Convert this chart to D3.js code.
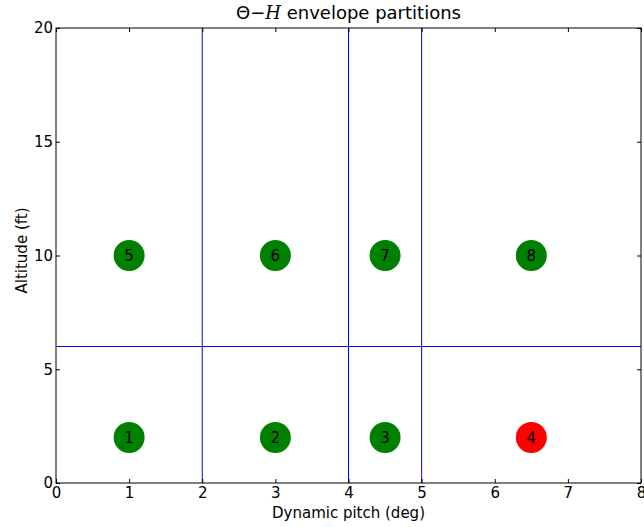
<!DOCTYPE html>
<html>
<head>
<meta charset="utf-8">
<script src="https://cdn.jsdelivr.net/npm/d3@7"></script>
<style>
  body { margin: 0; background: #fff; }
  text { font-family: "DejaVu Sans", sans-serif; }
</style>
</head>
<body>
<div id="container"></div>
<script>
/* DATA */
const xTicks = [0, 1, 2, 3, 4, 5, 6, 7, 8];
const yTicks = [0, 5, 10, 15, 20];
const pitchBounds = [2, 4, 5];
const altBounds = [6];
const pointX = [1, 3, 4.5, 6.5, 1, 3, 4.5, 6.5];
const pointY = [2, 2, 2, 2, 10, 10, 10, 10];
const pointLabel = ["1", "2", "3", "4", "5", "6", "7", "8"];
const pointState = ["ok", "ok", "ok", "bad", "ok", "ok", "ok", "ok"];

/* CONSTANTS */
const width = 644, height = 527;
const margin = {left: 56, right: 3, top: 28, bottom: 44};
const fs = 15;

const svg = d3.select("#container").append("svg")
  .attr("width", width)
  .attr("height", height);

/* SCALES */
const xScale = d3.scaleLinear().domain([0, 8]).range([margin.left, width - margin.right]);
const yScale = d3.scaleLinear().domain([0, 20]).range([height - margin.bottom, margin.top]);
const colorScale = d3.scaleOrdinal().domain(["ok", "bad"]).range(["green", "red"]);

const plot = svg.append("g");

// partition lines
plot.selectAll("line.v")
  .data(pitchBounds)
  .join("line")
  .attr("x1", d => xScale(d)).attr("x2", d => xScale(d))
  .attr("y1", yScale(0)).attr("y2", yScale(20))
  .attr("stroke", "blue").attr("stroke-width", 1);

plot.selectAll("line.h")
  .data(altBounds)
  .join("line")
  .attr("x1", xScale(0)).attr("x2", xScale(8))
  .attr("y1", d => yScale(d)).attr("y2", d => yScale(d))
  .attr("stroke", "blue").attr("stroke-width", 1);

// points
const pts = pointX.map((x, i) => ({x, y: pointY[i], label: pointLabel[i], state: pointState[i]}));

plot.selectAll("circle")
  .data(pts)
  .join("circle")
  .attr("cx", d => xScale(d.x))
  .attr("cy", d => yScale(d.y))
  .attr("r", 15.5)
  .attr("fill", d => colorScale(d.state));

plot.selectAll("text.lbl")
  .data(pts)
  .join("text")
  .attr("x", d => xScale(d.x))
  .attr("y", d => yScale(d.y))
  .attr("dy", "0.36em")
  .attr("text-anchor", "middle")
  .attr("font-size", fs)
  .text(d => d.label);

/* AXES (ticks inward on all sides) */
const tickStyle = g => {
  g.select(".domain").remove();
  g.selectAll("text").attr("font-size", fs).attr("fill", "#000")
    .style("font-family", "DejaVu Sans, sans-serif");
  g.selectAll("line").attr("stroke", "#000");
};

svg.append("g")
  .attr("transform", `translate(0,${yScale(0)})`)
  .call(d3.axisBottom(xScale).tickValues(xTicks).tickSizeInner(-4).tickSizeOuter(0).tickPadding(4).tickFormat(d3.format("d")))
  .call(tickStyle);

svg.append("g")
  .attr("transform", `translate(0,${yScale(20)})`)
  .call(d3.axisTop(xScale).tickValues(xTicks).tickSizeInner(-4).tickSizeOuter(0).tickFormat(""))
  .call(tickStyle);

svg.append("g")
  .attr("transform", `translate(${xScale(0)},0)`)
  .call(d3.axisLeft(yScale).tickValues(yTicks).tickSizeInner(-4).tickSizeOuter(0).tickPadding(3).tickFormat(d3.format("d")))
  .call(tickStyle);

svg.append("g")
  .attr("transform", `translate(${xScale(8)},0)`)
  .call(d3.axisRight(yScale).tickValues(yTicks).tickSizeInner(-4).tickSizeOuter(0).tickFormat(""))
  .call(tickStyle);

// frame
svg.append("rect")
  .attr("x", xScale(0)).attr("y", yScale(20))
  .attr("width", xScale(8) - xScale(0))
  .attr("height", yScale(0) - yScale(20))
  .attr("fill", "none").attr("stroke", "#000").attr("stroke-width", 1);

/* LABELS */
const title = svg.append("text")
  .attr("x", (xScale(0) + xScale(8)) / 2)
  .attr("y", 19)
  .attr("text-anchor", "middle")
  .attr("font-size", 18);
title.append("tspan").text("\u0398\u2212");
title.append("tspan").attr("font-family", "DejaVu Serif").attr("font-style", "italic").text("H");
title.append("tspan").text(" envelope partitions");

svg.append("text")
  .attr("x", (xScale(0) + xScale(8)) / 2)
  .attr("y", 518)
  .attr("text-anchor", "middle")
  .attr("font-size", fs)
  .text("Dynamic pitch (deg)");

svg.append("text")
  .attr("transform", `translate(27,${(yScale(0) + yScale(20)) / 2 - 5}) rotate(-90)`)
  .attr("text-anchor", "middle")
  .attr("font-size", fs)
  .text("Altitude (ft)");
</script>
</body>
</html>
